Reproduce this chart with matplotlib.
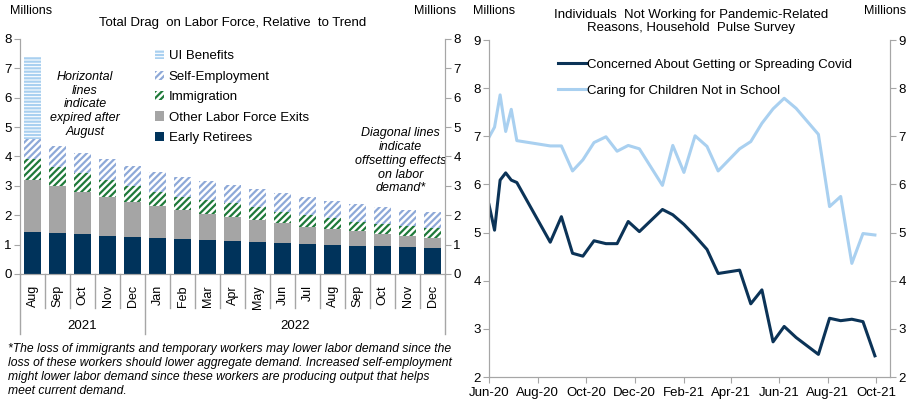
import numpy as np
import pandas as pd
import matplotlib
matplotlib.use("Agg")
import matplotlib.pyplot as plt
import matplotlib.dates as mdates

plt.rcParams['font.family'] = ['Liberation Sans', 'DejaVu Sans']
plt.rcParams['hatch.linewidth'] = 1.6

# --- left chart data (millions) ---
months = ['Aug', 'Sep', 'Oct', 'Nov', 'Dec', 'Jan', 'Feb', 'Mar', 'Apr', 'May',
          'Jun', 'Jul', 'Aug', 'Sep', 'Oct', 'Nov', 'Dec']
early_retirees = [1.44, 1.41, 1.37, 1.31, 1.27, 1.24, 1.20, 1.17, 1.14, 1.10,
                  1.07, 1.03, 1.00, 0.96, 0.96, 0.93, 0.90]
other_exits = [1.76, 1.59, 1.42, 1.31, 1.19, 1.06, 0.97, 0.86, 0.79, 0.73,
               0.66, 0.58, 0.54, 0.49, 0.41, 0.38, 0.34]
immigration = [0.70, 0.65, 0.64, 0.58, 0.55, 0.50, 0.46, 0.49, 0.48, 0.44,
               0.39, 0.40, 0.36, 0.33, 0.33, 0.34, 0.33]
self_employment = [0.70, 0.71, 0.68, 0.70, 0.68, 0.68, 0.68, 0.66, 0.62, 0.62,
                   0.65, 0.61, 0.59, 0.60, 0.58, 0.53, 0.54]
ui_benefits = [2.77, 0, 0, 0, 0, 0, 0, 0, 0, 0, 0, 0, 0, 0, 0, 0, 0]

# --- right chart data (millions) ---
pulse_dates = pd.to_datetime([
    '2020-06-01', '2020-06-08', '2020-06-15', '2020-06-22', '2020-06-29', '2020-07-06',
    '2020-08-17', '2020-08-31', '2020-09-14', '2020-09-27', '2020-10-11', '2020-10-26',
    '2020-11-09', '2020-11-23', '2020-12-07', '2021-01-05', '2021-01-18', '2021-02-01',
    '2021-02-15', '2021-03-02', '2021-03-16', '2021-04-12', '2021-04-26', '2021-05-10',
    '2021-05-24', '2021-06-07', '2021-06-22', '2021-07-20', '2021-08-03', '2021-08-17',
    '2021-08-31', '2021-09-14', '2021-09-29'])
covid_concern = [5.58, 5.05, 6.09, 6.24, 6.09, 6.04, 4.80, 5.33, 4.57, 4.51, 4.83, 4.77,
                 4.77, 5.23, 5.02, 5.48, 5.37, 5.17, 4.93, 4.65, 4.15, 4.22, 3.52, 3.81,
                 2.73, 3.05, 2.82, 2.47, 3.22, 3.17, 3.20, 3.15, 2.44]
child_care = [6.98, 7.19, 7.86, 7.10, 7.56, 6.91, 6.80, 6.80, 6.28, 6.51, 6.87, 6.99,
              6.69, 6.81, 6.74, 5.98, 6.81, 6.25, 7.01, 6.79, 6.28, 6.74, 6.89, 7.27,
              7.57, 7.79, 7.58, 7.04, 5.54, 5.75, 4.36, 4.98, 4.95]

navy = '#0B3357'
grey_axis = '#A6A6A6'

fig = plt.figure(figsize=(9.15, 4.07), dpi=100)

# ================= left chart =================
ax = fig.add_axes([0.0219, 0.3268, 0.4645, 0.5774])
x = np.arange(len(months))
w = 0.68
bottom = np.zeros(len(months))
ax.bar(x, early_retirees, w, bottom=bottom, color='#00335B', label='Early Retirees')
bottom += early_retirees
ax.bar(x, other_exits, w, bottom=bottom, color='#A5A5A5', label='Other Labor Force Exits')
bottom += other_exits
ax.bar(x, immigration, w, bottom=bottom, facecolor='white', edgecolor='#1F7A3A',
       hatch='/////', linewidth=0, label='Immigration')
bottom += immigration
ax.bar(x, self_employment, w, bottom=bottom, facecolor='white', edgecolor='#8EA9D8',
       hatch='/////', linewidth=0, label='Self-Employment')
bottom += self_employment
ax.bar(x, ui_benefits, w, bottom=bottom, facecolor='white', edgecolor='#A9D0F0',
       hatch='-----', linewidth=0, label='UI Benefits')

ax.set_xlim(-0.5, len(months) - 0.5)
ax.set_ylim(0, 8)
ax.set_yticks(range(0, 9))
ax.set_xticks(x)
ax.set_xticklabels(months, rotation=90, fontsize=9)
ax.tick_params(axis='x', length=0, pad=8)
ax.tick_params(axis='y', labelsize=9.5, length=4, direction='out', color=grey_axis, pad=2)
ax.spines['top'].set_visible(False)
for s in ['left', 'right', 'bottom']:
    ax.spines[s].set_color(grey_axis)

ax2 = ax.twinx()
ax2.set_ylim(0, 8)
ax2.set_yticks(range(0, 9))
ax2.tick_params(axis='y', labelsize=9.5, length=4, direction='out', color=grey_axis, pad=2)
ax2.spines['top'].set_visible(False)
for s in ['left', 'right', 'bottom']:
    ax2.spines[s].set_color(grey_axis)

# multi-level category separators
trans = ax.get_xaxis_transform()
for i in range(len(months) + 1):
    edge = i - 0.5
    y_end = -0.255 if i in (0, 5, len(months)) else -0.145
    ax.plot([edge, edge], [0, y_end], transform=trans, color=grey_axis, lw=1, clip_on=False)
ax.text(2, -0.22, '2021', transform=trans, ha='center', va='center', fontsize=9.5)
ax.text(10.5, -0.22, '2022', transform=trans, ha='center', va='center', fontsize=9.5)

h, l = ax.get_legend_handles_labels()
ax.legend(h[::-1], l[::-1], loc='upper left', bbox_to_anchor=(0.305, 0.975), frameon=False,
          fontsize=9.5, handlelength=0.7, handleheight=0.7, handletextpad=0.35,
          labelspacing=0.62, borderaxespad=0)

ax.text(0.153, 0.865, 'Horizontal\nlines\nindicate\nexpired after\nAugust', transform=ax.transAxes,
        ha='center', va='top', style='italic', fontsize=9, linespacing=1.2)
ax.text(0.896, 0.625, 'Diagonal lines\nindicate\noffsetting effects\non labor\ndemand*',
        transform=ax.transAxes, ha='center', va='top', style='italic', fontsize=9,
        linespacing=1.2)

fig.text(0.011, 0.972, 'Millions', fontsize=9, va='center')
fig.text(0.498, 0.972, 'Millions', fontsize=9, va='center', ha='right')
fig.text(0.254, 0.943, 'Total Drag  on Labor Force, Relative  to Trend', fontsize=9.5,
         ha='center', va='center')

fig.text(0.009, 0.158,
         '*The loss of immigrants and temporary workers may lower labor demand since the\n'
         'loss of these workers should lower aggregate demand. Increased self-employment\n'
         'might lower labor demand since these workers are producing output that helps\n'
         'meet current demand.',
         style='italic', fontsize=8.7, va='top', linespacing=1.25)

# ================= right chart =================
bx = fig.add_axes([0.5344, 0.0737, 0.4383, 0.828])
bx.plot(pulse_dates, covid_concern, color=navy, lw=2.2,
        label='Concerned About Getting or Spreading Covid')
bx.plot(pulse_dates, child_care, color='#A9D0F0', lw=2.2,
        label='Caring for Children Not in School')
bx.set_xlim(pd.Timestamp('2020-06-01'), pd.Timestamp('2021-10-18'))
bx.set_ylim(2, 9)
bx.set_yticks(range(2, 10))
bx.xaxis.set_major_locator(mdates.MonthLocator(bymonth=[2, 4, 6, 8, 10, 12]))
bx.xaxis.set_major_formatter(mdates.DateFormatter('%b-%y'))
bx.tick_params(axis='x', labelsize=9.5, length=4, direction='out', color=grey_axis, pad=3)
bx.tick_params(axis='y', labelsize=9.5, length=4, direction='out', color=grey_axis, pad=2)
bx.spines['top'].set_visible(False)
for s in ['left', 'right', 'bottom']:
    bx.spines[s].set_color(grey_axis)
bx2 = bx.twinx()
bx2.set_ylim(2, 9)
bx2.set_yticks(range(2, 10))
bx2.tick_params(axis='y', labelsize=9.5, length=4, direction='out', color=grey_axis, pad=2)
bx2.spines['top'].set_visible(False)
for s in ['left', 'right', 'bottom']:
    bx2.spines[s].set_color(grey_axis)

bx.legend(loc='upper left', bbox_to_anchor=(0.16, 0.96), frameon=False, fontsize=9.5,
          handlelength=2.2, handletextpad=0.0, labelspacing=1.05, borderaxespad=0)

fig.text(0.517, 0.972, 'Millions', fontsize=9, va='center')
fig.text(0.99, 0.972, 'Millions', fontsize=9, va='center', ha='right')
fig.text(0.755, 0.947, 'Individuals  Not Working for Pandemic-Related\nReasons, Household  Pulse Survey',
         fontsize=9.5, ha='center', va='center', linespacing=1.1)

fig.savefig('out.png', dpi=100)
